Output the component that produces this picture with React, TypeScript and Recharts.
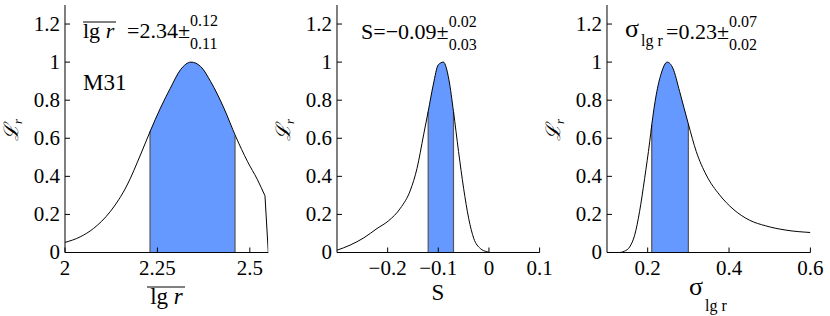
import React from "react";
import { ComposedChart, Line, Area, XAxis, YAxis, ReferenceLine } from "recharts";

// likelihood curves
const lgrX = [2, 2.041, 2.077, 2.122, 2.168, 2.204, 2.231, 2.258, 2.285, 2.3125, 2.341, 2.367, 2.394, 2.43, 2.462, 2.494, 2.52, 2.541];
const lgrL = [0.053, 0.082, 0.126, 0.214, 0.354, 0.512, 0.639, 0.758, 0.863, 0.96, 1.0, 0.977, 0.898, 0.758, 0.609, 0.477, 0.385, 0.298];
const lgrDropX = [2.541, 2.55];
const lgrDropL = [0.298, 0];
const lgrBandX = [2.23, 2.258, 2.285, 2.3125, 2.341, 2.367, 2.394, 2.43, 2.46];
const lgrBandL = [0.637, 0.758, 0.863, 0.96, 1.0, 0.977, 0.898, 0.758, 0.613];

const sX = [-0.3, -0.274, -0.247, -0.221, -0.198, -0.175, -0.155, -0.142, -0.129, -0.12, -0.11, -0.1, -0.09, -0.079, -0.07, -0.06, -0.05, -0.04, -0.03, -0.017, -0.004, 0.003, 0.1];
const sL = [0.012, 0.039, 0.077, 0.126, 0.167, 0.232, 0.328, 0.442, 0.618, 0.74, 0.88, 0.986, 1.0, 0.907, 0.74, 0.53, 0.337, 0.179, 0.074, 0.021, 0.004, 0, 0];
const sBandX = [-0.12, -0.11, -0.1, -0.09, -0.079, -0.07];
const sBandL = [0.74, 0.88, 0.986, 1.0, 0.907, 0.74];

const sigX = [0.1, 0.131, 0.143, 0.156, 0.168, 0.18, 0.1925, 0.205, 0.21, 0.221, 0.2335, 0.248, 0.262, 0.2785, 0.3, 0.3195, 0.344, 0.377, 0.41, 0.45, 0.49, 0.54, 0.6];
const sigL = [0, 0, 0.007, 0.03, 0.091, 0.214, 0.389, 0.582, 0.67, 0.828, 0.942, 1.0, 0.968, 0.846, 0.675, 0.53, 0.407, 0.302, 0.228, 0.17, 0.14, 0.1175, 0.105];
const sigBandX = [0.21, 0.221, 0.2335, 0.248, 0.262, 0.2785, 0.3];
const sigBandL = [0.67, 0.828, 0.942, 1.0, 0.968, 0.846, 0.675];

const lgrTicks = [2, 2.25, 2.5];
const sTicks = [-0.2, -0.1, 0, 0.1];
const sigTicks = [0.2, 0.4, 0.6];
const yTicks = [0, 0.2, 0.4, 0.6, 0.8, 1, 1.2];

const FONT = "'Liberation Serif', 'Times New Roman', serif";
const BLUE = "#6699ff";
const txt = { fontFamily: FONT };

const rows = (xs: number[], ys: number[]) => xs.map((x, i) => ({ x, y: ys[i] }));
const fmtTick = (v: number) => (v < 0 ? "\u2212" + String(-v) : String(v));

function BottomTick({ x, y, payload }: any) {
  return (
    <g>
      <line x1={x} x2={x} y1={y} y2={y - 5} stroke="#000" />
      <text x={x} y={y + 23} textAnchor="middle" fontSize={21} style={txt} fill="#000">
        {fmtTick(payload.value)}
      </text>
    </g>
  );
}
function TopTick({ x, y }: any) {
  return <line x1={x} x2={x} y1={y} y2={y + 5} stroke="#000" />;
}
function LeftTick({ x, y, payload }: any) {
  return (
    <g>
      <line x1={x} x2={x + 5} y1={y} y2={y} stroke="#000" />
      <text x={x - 5} y={y + 7} textAnchor="end" fontSize={21} style={txt} fill="#000">
        {fmtTick(payload.value)}
      </text>
    </g>
  );
}
function RightTick({ x, y }: any) {
  return <line x1={x} x2={x - 5} y1={y} y2={y} stroke="#000" />;
}

type Pt = { x: number; y: number };
type PanelProps = {
  plotLeft: number;
  plotW: number;
  domain: [number, number];
  ticks: number[];
  curve: Pt[];
  tail?: Pt[];
  band: Pt[];
};

function Panel({ plotLeft, plotW, domain, ticks, curve, tail, band }: PanelProps) {
  const first = band[0];
  const last = band[band.length - 1];
  return (
    <div style={{ position: "absolute", left: plotLeft - 50, top: 0 }}>
      <ComposedChart width={50 + plotW + 20} height={316} margin={{ top: 5, right: 20, bottom: 0, left: 0 }}>
        <XAxis type="number" dataKey="x" domain={domain} ticks={ticks} interval={0} height={63.5} tickSize={0} tickMargin={0} tickLine={false} axisLine={{ stroke: "#000" }} tick={<BottomTick />} allowDataOverflow />
        <XAxis xAxisId="t" orientation="top" type="number" dataKey="x" domain={domain} ticks={ticks} interval={0} height={0} tickSize={0} tickMargin={0} tickLine={false} axisLine={{ stroke: "#000" }} tick={<TopTick />} allowDataOverflow />
        <YAxis type="number" domain={[0, 1.3]} ticks={yTicks} interval={0} width={50} tickSize={0} tickMargin={0} tickLine={false} axisLine={{ stroke: "#000" }} tick={<LeftTick />} allowDataOverflow />
        <YAxis yAxisId="r" orientation="right" type="number" domain={[0, 1.3]} ticks={yTicks} interval={0} width={0} tickSize={0} tickMargin={0} tickLine={false} axisLine={{ stroke: "#000" }} tick={<RightTick />} allowDataOverflow />
        <Area data={band} dataKey="y" type="monotone" fill={BLUE} fillOpacity={1} stroke="none" baseValue={0} isAnimationActive={false} />
        <ReferenceLine segment={[{ x: first.x, y: 0 }, { x: first.x, y: first.y }]} stroke="#555" strokeWidth={1.2} />
        <ReferenceLine segment={[{ x: last.x, y: 0 }, { x: last.x, y: last.y }]} stroke="#555" strokeWidth={1.2} />
        <Line data={curve} dataKey="y" type="monotone" stroke="#000" strokeWidth={1} dot={false} isAnimationActive={false} />
        {tail && <Line data={tail} dataKey="y" type="linear" stroke="#000" strokeWidth={1} dot={false} isAnimationActive={false} />}
      </ComposedChart>
    </div>
  );
}

function YLabel({ x, y }: { x: number; y: number }) {
  return (
    <text transform={`translate(${x},${y}) rotate(-90)`} textAnchor="middle" style={txt} fill="#000">
      <tspan fontSize={20} fontStyle="italic">{"\u2112"}</tspan>
      <tspan fontSize={13} fontStyle="italic" dy={4}>r</tspan>
    </text>
  );
}

// main value with stacked upper/lower errors right after it
function ValueErr({ x, y, main, up, down }: { x: number; y: number; main: string; up: string; down: string }) {
  return (
    <g style={txt} fill="#000">
      <text x={x} y={y} fontSize={22}>
        {main}
        <tspan fontSize={16} dy={-12}>{up}</tspan>
      </text>
      <text x={x} y={y} fontSize={22}>
        <tspan fillOpacity={0}>{main}</tspan>
        <tspan fontSize={16} dy={11}>{down}</tspan>
      </text>
    </g>
  );
}

function Overlay() {
  return (
    <svg width={830} height={316} style={{ position: "absolute", left: 0, top: 0, pointerEvents: "none" }}>
      <YLabel x={18} y={130} />
      <YLabel x={290} y={130} />
      <YLabel x={560} y={130} />

      {/* panel 1 */}
      <line x1={83} x2={116} y1={22} y2={22} stroke="#000" strokeWidth={1} />
      <text x={83} y={38} fontSize={22} style={txt} fill="#000">
        lg <tspan fontStyle="italic">r</tspan>
      </text>
      <ValueErr x={127} y={38} main="=2.34±" up="0.12" down="0.11" />
      <text x={83} y={90} fontSize={23} style={txt} fill="#000">M31</text>
      <line x1={147} x2={185} y1={287} y2={287} stroke="#000" strokeWidth={1} />
      <text x={166.5} y={304} fontSize={23} textAnchor="middle" style={txt} fill="#000">
        lg <tspan fontStyle="italic">r</tspan>
      </text>

      {/* panel 2 */}
      <ValueErr x={361} y={39} main="S=−0.09±" up="0.02" down="0.03" />
      <text x={438} y={300} fontSize={23} textAnchor="middle" style={txt} fill="#000">S</text>

      {/* panel 3 */}
      <text x={625} y={37} fontSize={26} style={txt} fill="#000">σ</text>
      <text x={641} y={46} fontSize={16} style={txt} fill="#000">lg r</text>
      <ValueErr x={666} y={39} main="=0.23±" up="0.07" down="0.02" />
      <text x={689} y={295} fontSize={26} style={txt} fill="#000">σ</text>
      <text x={705} y={311} fontSize={16} style={txt} fill="#000">lg r</text>
    </svg>
  );
}

export default function App() {
  return (
    <div style={{ position: "absolute", left: 0, top: 0, width: 830, height: 316, background: "#fff", fontFamily: FONT }}>
      <Panel plotLeft={65} plotW={203.3} domain={[2, 2.55]} ticks={lgrTicks} curve={rows(lgrX, lgrL)} tail={rows(lgrDropX, lgrDropL)} band={rows(lgrBandX, lgrBandL)} />
      <Panel plotLeft={336.7} plotW={202.6} domain={[-0.3, 0.1]} ticks={sTicks} curve={rows(sX, sL)} band={rows(sBandX, sBandL)} />
      <Panel plotLeft={607.3} plotW={203.4} domain={[0.1, 0.6]} ticks={sigTicks} curve={rows(sigX, sigL)} band={rows(sigBandX, sigBandL)} />
      <Overlay />
    </div>
  );
}
